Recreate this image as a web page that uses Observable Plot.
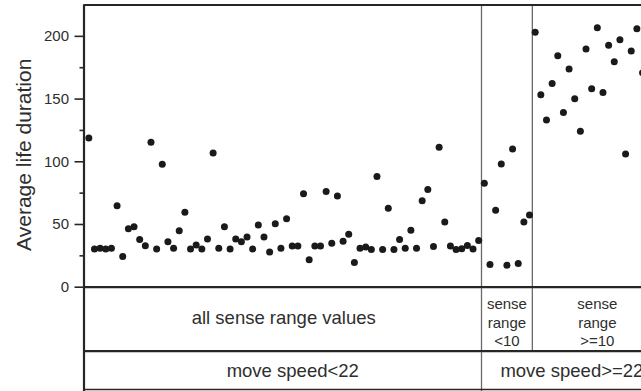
<!DOCTYPE html>
<html>
<head>
<meta charset="utf-8">
<script src="https://cdn.jsdelivr.net/npm/d3@7"></script>
<script src="https://cdn.jsdelivr.net/npm/@observablehq/plot@0.6"></script>
<style>
  html, body { margin: 0; padding: 0; background: #fff; overflow: hidden; }
  #chart { width: 641px; overflow: hidden; background: #fff; }
  #chart svg { display: block; overflow: visible; background: transparent; }
</style>
</head>
<body>
<div id="chart"></div>
<script>
// Average life duration per simulation run, in run order
const lifeDuration = [
  119, 30.4, 31, 30.4, 31, 65, 24.5, 46.6, 48.2, 38,
  33, 115.6, 30.4, 98, 36.2, 31, 45, 59.7, 30.4, 33.6,
  30.4, 38.4, 107, 31, 48.2, 30.4, 38.4, 36.2, 40, 30.4,
  49.5, 40, 28, 50.6, 31, 54.6, 32.8, 32.8, 74.6, 21.9,
  32.8, 32.8, 76.4, 35.1, 72.7, 36.7, 42.3, 19.7, 31, 32,
  30.1, 88.2, 30.1, 62.9, 30.1, 38.1, 31, 45.5, 31, 69,
  77.8, 32.5, 111.6, 51.9, 32.8, 30.1, 30.7, 33.3, 30.4, 37.3,
  82.8, 18.1, 61.3, 98.3, 17.6, 110.2, 18.9, 51.9, 57.5,
  203.2, 153.4, 133.4, 162.4, 184.5, 139.3, 173.9, 150.2, 124.4, 189.9,
  158.2, 206.9, 155.3, 193, 179.7, 197.3, 106.2, 188.3, 206.1, 171
];

// Run groups along the x axis
const senseGroups = ["all sense range values", "sense\nrange\n<10", "sense\nrange\n>=10"];
const senseGroupSize = [70, 9, 23];
const speedGroups = ["move speed<22", "move speed>=22"];
const speedGroupSpan = [1, 2];   // how many sense groups each speed group covers

const yTicks = [0, 50, 100, 150, 200];
const yMinorTicks = [25, 75, 125, 175];
const yMax = 225;
const yLabel = "Average life duration";

// ---- derived tables ----
const runs = lifeDuration.map((v, i) => ({run: i + 1, life: v}));

const edges = [0.5];
senseGroupSize.forEach(n => edges.push(edges[edges.length - 1] + n));

const senseCells = senseGroups.map((label, i) => ({
  label, x1: edges[i], x2: edges[i + 1], mid: (edges[i] + edges[i + 1]) / 2,
  multi: label.includes("\n")
}));

const speedEdges = [edges[0]];
{ let k = 0; speedGroupSpan.forEach(s => { k += s; speedEdges.push(edges[k]); }); }
const speedCells = speedGroups.map((label, i) => ({
  label, mid: (speedEdges[i] + speedEdges[i + 1]) / 2
}));

// ---- shared layout ----
const W = 641;
const frameLeft = 83.5;
const step = 5.65;                      // px per run
const xScale = {
  domain: [edges[0], edges[edges.length - 1]],
  range: [frameLeft + 2, frameLeft + 2 + step * (edges[edges.length - 1] - edges[0])],
  axis: null
};
const font = "'Liberation Sans', Arial, Helvetica, sans-serif";
const ink = "#262626";
const textInk = "#2e2e2e";
const sepInk = "#6a6a6a";

const innerSense = edges.slice(1, -1);
const innerSpeed = speedEdges.slice(1, -1);

// ---- scatter panel ----
const scatter = Plot.plot({
  width: W, height: 288,
  marginLeft: frameLeft, marginRight: 0, marginTop: 4.5, marginBottom: 0,
  style: {fontFamily: font, background: "transparent", overflow: "visible"},
  x: xScale,
  y: {domain: [0, yMax], range: [286.7, 4.5]},
  marks: [
    Plot.ruleX(innerSense, {stroke: sepInk, strokeWidth: 1.3}),
    Plot.dot(runs, {x: "run", y: "life", r: 3.5, fill: "#1a1a1a", stroke: "none"}),
    Plot.axisY({ticks: yMinorTicks, tickSize: 4, tickFormat: () => "", label: null,
                stroke: ink, strokeWidth: 1.6}),
    Plot.axisY({ticks: yTicks, tickSize: 9, tickPadding: 6, label: null,
                fontSize: 15, stroke: ink, strokeWidth: 1.6, fill: textInk}),
    Plot.ruleY([0, yMax], {stroke: ink, strokeWidth: 2.2}),
    Plot.ruleX([edges[0]], {stroke: ink, strokeWidth: 2.2, dx: -2}),
    Plot.text([yLabel], {text: d => d, frameAnchor: "left", rotate: -90,
                         dx: -59.5, dy: 8, fontSize: 21, fill: textInk,
                         textAnchor: "middle", lineAnchor: "middle"})
  ]
});

// ---- table row: sense range groups ----
const senseRow = Plot.plot({
  width: W, height: 64,
  marginLeft: frameLeft, marginRight: 0, marginTop: 0, marginBottom: 0,
  style: {fontFamily: font, background: "transparent", overflow: "visible"},
  x: xScale,
  y: {domain: [0, 1], range: [62.7, 0], axis: null},
  marks: [
    Plot.ruleX(innerSense, {stroke: sepInk, strokeWidth: 1.3}),
    Plot.ruleY([0], {stroke: ink, strokeWidth: 2.2}),
    Plot.ruleX([edges[0]], {stroke: ink, strokeWidth: 2.2, dx: -2}),
    Plot.text(senseCells.filter(d => !d.multi),
              {x: "mid", y: 0.5, text: "label", fontSize: 18.5, dy: -2,
               fill: textInk, lineAnchor: "middle"}),
    Plot.text(senseCells.filter(d => d.multi),
              {x: "mid", y: 0.5, text: "label", fontSize: 15, lineHeight: 1.22, dy: 2,
               fill: textInk, lineAnchor: "middle"})
  ]
});

// ---- table row: move speed groups ----
const speedRow = Plot.plot({
  width: W, height: 39,
  marginLeft: frameLeft, marginRight: 0, marginTop: 0, marginBottom: 0,
  style: {fontFamily: font, background: "transparent", overflow: "visible"},
  x: xScale,
  y: {domain: [0, 1], range: [37, 0], axis: null},
  marks: [
    Plot.ruleX(innerSpeed, {stroke: sepInk, strokeWidth: 1.3}),
    Plot.ruleY([0], {stroke: ink, strokeWidth: 1.6}),
    Plot.ruleX([edges[0]], {stroke: ink, strokeWidth: 2.2, dx: -2}),
    Plot.text(speedCells.slice(0, 1), {x: "mid", y: 0.5, text: "label", fontSize: 18.5,
                                       dx: 9, fill: textInk, lineAnchor: "middle"}),
    Plot.text(speedCells.slice(1), {x: "mid", y: 0.5, text: "label", fontSize: 18.5,
                                    fill: textInk, lineAnchor: "middle"})
  ]
});

const chart = document.getElementById("chart");
chart.append(scatter, senseRow, speedRow);
</script>
</body>
</html>
